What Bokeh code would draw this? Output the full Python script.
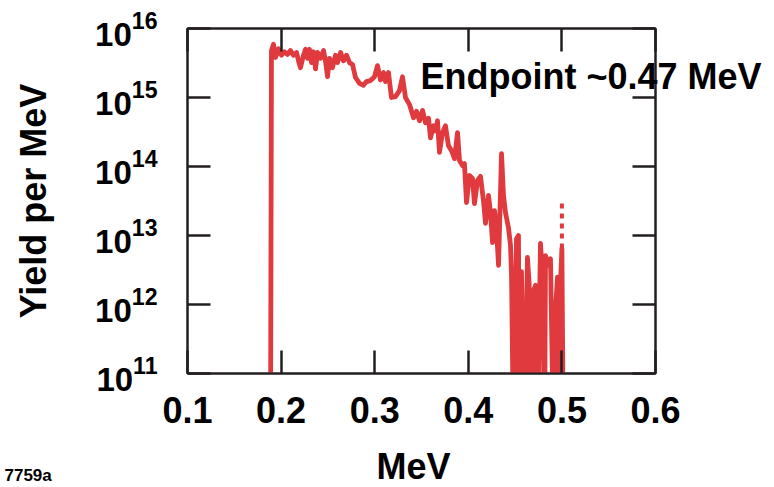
from bokeh.plotting import figure
from bokeh.models import FixedTicker, LinearAxis, LogAxis, Label, ColumnDataSource
from bokeh.embed import file_html
from bokeh.resources import INLINE

energy_mev = [
    0.1887, 0.1897, 0.1919, 0.1940, 0.1972, 0.2004, 0.2036, 0.2068, 0.2100, 0.2132,
    0.2165, 0.2186, 0.2207, 0.2239, 0.2261, 0.2282, 0.2303, 0.2325, 0.2346, 0.2368,
    0.2389, 0.2421, 0.2453, 0.2474, 0.2496, 0.2517, 0.2549, 0.2581, 0.2603, 0.2635,
    0.2667, 0.2699, 0.2731, 0.2763, 0.2795, 0.2838, 0.2880, 0.2912, 0.2955, 0.2998,
    0.3030, 0.3062, 0.3094, 0.3115, 0.3147, 0.3179, 0.3222, 0.3265, 0.3297, 0.3329,
    0.3372, 0.3415, 0.3447, 0.3479, 0.3511, 0.3543, 0.3575, 0.3596, 0.3628, 0.3650,
    0.3671, 0.3692, 0.3724, 0.3756, 0.3788, 0.3821, 0.3853, 0.3885, 0.3906, 0.3938,
    0.3959, 0.3981, 0.4013, 0.4045, 0.4066, 0.4098, 0.4130, 0.4162, 0.4184, 0.4216,
    0.4237, 0.4259, 0.4280, 0.4301, 0.4323, 0.4355, 0.4376, 0.4397, 0.4429, 0.4451,
    0.4462, 0.4483, 0.4515, 0.4536, 0.4547, 0.4568, 0.4600, 0.4632, 0.4650, 0.4665,
    0.4697, 0.4718, 0.4739, 0.4771, 0.4793, 0.4815, 0.4825, 0.4857, 0.4878, 0.4910,
    0.4935, 0.4953, 0.4965, 0.4985, 0.5000, 0.5015,
]
yield_per_mev = [
    1e10, 4.8e15, 5.9e15, 3.8e15, 5.1e15, 4.1e15, 4.6e15, 4.2e15, 4.8e15, 4.1e15,
    4.5e15, 3.4e15, 2.7e15, 4.1e15, 5.0e15, 3.7e15, 5.0e15, 3.2e15, 4.6e15, 2.6e15,
    4.5e15, 3.7e15, 4.8e15, 3.4e15, 2.0e15, 3.7e15, 2.7e15, 4.1e15, 3.2e15, 4.5e15,
    3.4e15, 4.1e15, 3.2e15, 3.0e15, 1.95e15, 1.6e15, 1.5e15, 1.7e15, 1.76e15, 2.0e15,
    2.9e15, 1.8e15, 2.3e15, 1.7e15, 2.3e15, 1.0e15, 1.03e15, 1.26e15, 2.0e15, 1.0e15,
    7.9e14, 5.1e14, 6.3e14, 4.6e14, 6.5e14, 4.3e14, 5.0e14, 2.6e14, 3.9e14, 3.3e14,
    4.6e14, 1.6e14, 3.1e14, 3.9e14, 2.0e14, 1.7e14, 1.3e14, 3.1e14, 1.22e14, 1.03e14,
    1.1e14, 3.0e13, 7.4e13, 6.7e13, 2.9e13, 6.3e13, 7.2e13, 3.2e13, 1.5e13, 3.8e13,
    2.15e13, 7.9e12, 2.3e13, 1.26e13, 3.7e12, 1.54e14, 3.8e13, 2.15e13, 1.3e13, 7.2e12,
    2.6e12, 1e10, 9.0e12, 1.0e13, 1e10, 3.0e12, 1e10, 4.8e12, 2.0e12, 1e10,
    1.6e12, 1.9e12, 1e10, 7.7e12, 2.5e12, 1e10, 5.1e12, 3.7e12, 4.6e12, 1e10,
    1.0e12, 2.5e12, 1e10, 2.0e12, 6.5e12, 1e10,
]
endpoint_x = [0.5, 0.5]
endpoint_y = [6.5e12, 3.0e13]

x_ticks = [0.1, 0.2, 0.3, 0.4, 0.5, 0.6]
y_ticks = [1e11, 1e12, 1e13, 1e14, 1e15, 1e16]
annotation_y = 2e15
annotation_text = "Endpoint ~0.47 MeV"

RED = "#E03A3E"
INK = "#231F20"
FONT = "Liberation Sans"

p = figure(width=774, height=487, x_range=(0.1, 0.6), y_range=(1e11, 1e16),
           y_axis_type="log", output_backend="svg", toolbar_location=None,
           min_border_left=187, min_border_right=119, min_border_top=28,
           min_border_bottom=114, background_fill_color="white",
           border_fill_color="white")
p.grid.visible = False
p.outline_line_color = INK
p.outline_line_width = 2

src = ColumnDataSource(dict(x=energy_mev, y=yield_per_mev))
p.line("x", "y", source=src, line_color=RED, line_width=4.8, line_join="round")
p.line(endpoint_x, endpoint_y, line_color=RED, line_width=4, line_dash="5 5")

def style(ax, size="36px"):
    ax.axis_line_color = INK
    ax.axis_line_width = 2
    ax.major_tick_line_color = INK
    ax.major_tick_line_width = 2.5
    ax.major_tick_in = 23
    ax.major_tick_out = 0
    ax.minor_tick_line_color = None
    ax.major_label_text_font = FONT
    ax.major_label_text_font_style = "bold"
    if size is None:
        ax.major_label_text_color = None
        ax.major_label_text_font_size = "1px"
        ax.major_label_standoff = 0
    else:
        ax.major_label_text_color = "black"
        ax.major_label_text_font_size = size
    ax.axis_label_text_font = FONT
    ax.axis_label_text_font_style = "bold"
    ax.axis_label_text_font_size = "36px"
    ax.axis_label_text_color = "black"

xa = p.xaxis[0]
xa.ticker = FixedTicker(ticks=x_ticks)
style(xa)
xa.major_label_standoff = 23

ya = p.yaxis[0]
ya.ticker = FixedTicker(ticks=y_ticks)
style(ya, size="33px")
ya.major_label_standoff = 30
ya.axis_label = "Yield per MeV"
ya.axis_label_standoff = 38

top = LinearAxis(ticker=FixedTicker(ticks=x_ticks))
style(top, size=None)
p.add_layout(top, "above")

right = LogAxis(ticker=FixedTicker(ticks=y_ticks))
style(right, size=None)
p.add_layout(right, "right")

def bold_label(**kw):
    kw.setdefault("text_font", FONT)
    kw.setdefault("text_font_style", "bold")
    kw.setdefault("text_color", "black")
    return Label(**kw)

# x-axis title, placed in the right side panel so that it is not clipped
p.add_layout(bold_label(x=-242, y=-93, x_units="screen", y_units="screen", text="MeV",
                        text_align="center", text_baseline="alphabetic",
                        text_font_size="36px"), "right")

# in-plot annotation, drawn as the single label of an extra right axis
note = LogAxis(ticker=FixedTicker(ticks=[annotation_y]),
               major_label_overrides={annotation_y: annotation_text})
style(note, size="36px")
note.axis_line_color = None
note.major_tick_line_color = None
note.major_label_standoff = -309
p.add_layout(note, "right")

# figure id in the bottom-left corner
p.add_layout(bold_label(x=-183, y=-447, x_units="screen", y_units="screen", text="7759a",
                        text_font_size="17px", text_baseline="alphabetic"), "above")

open("out.html", "w").write(file_html(p, INLINE))
